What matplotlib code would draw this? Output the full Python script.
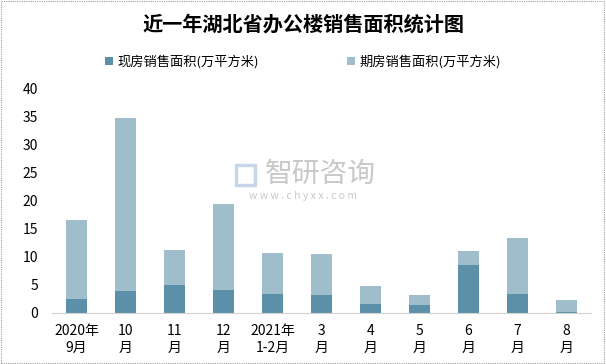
import matplotlib.pyplot as plt
import numpy as np

plt.rcParams['font.family'] = ['Noto Sans CJK SC', 'DejaVu Sans']

# Data
months = ['2020年\n9月', '10\n月', '11\n月', '12\n月', '2021年\n1-2月',
          '3\n月', '4\n月', '5\n月', '6\n月', '7\n月', '8\n月']
existing = [2.5, 3.9, 5.0, 4.1, 3.4, 3.2, 1.6, 1.4, 8.6, 3.4, 0.2]
presale = [14.1, 30.9, 6.25, 15.4, 7.3, 7.3, 3.2, 1.8, 2.5, 10.0, 2.1]
yticks = [0, 5, 10, 15, 20, 25, 30, 35, 40]

c_exist = '#5b90a8'
c_pre = '#9fbdca'

fig = plt.figure(figsize=(6.06, 3.64), dpi=100)
ax = fig.add_axes([52 / 606, 1 - 313 / 364, 539 / 606, 224 / 364])

x = np.arange(len(months))
ax.bar(x, existing, width=0.41, color=c_exist, label='现房销售面积(万平方米)')
ax.bar(x, presale, width=0.41, bottom=existing, color=c_pre, label='期房销售面积(万平方米)')

ax.set_xlim(-0.5, len(months) - 0.5)
ax.set_ylim(0, 40)
ax.set_yticks(yticks)
ax.set_yticklabels([str(t) for t in yticks], fontsize=10)
ax.set_xticks(x)
ax.set_xticklabels(months, fontsize=10, linespacing=1.3)
ax.tick_params(length=0, pad=8)
ax.tick_params(axis='y', pad=10)
for s in ['top', 'right', 'left']:
    ax.spines[s].set_visible(False)
ax.spines['bottom'].set_color('#d0d0d0')

# Title and legend
fig.text(0.5, 1 - 24 / 364, '近一年湖北省办公楼销售面积统计图', ha='center', va='center',
         fontsize=14.5, fontweight='bold')
ax.legend(loc='center', bbox_to_anchor=(0.5, 1 - 62 / 364), bbox_transform=fig.transFigure,
          ncol=2, frameon=False, fontsize=9.5, handlelength=0.6, handleheight=0.6,
          columnspacing=6.7, handletextpad=0.3)

# Watermark
fig.text(320 / 606, 1 - 174 / 364, '智研咨询', ha='center', va='center', fontsize=20,
         color='#c8c8c8', zorder=0)
fig.text(303 / 606, 1 - 196 / 364, 'w w w . c h y x x . c o m', ha='center', va='center',
         fontsize=7.5, color='#c8c8c8', zorder=0)
fig.patches.append(plt.Rectangle((236 / 606, 1 - 185 / 364), 19 / 606, 20 / 364,
                                 transform=fig.transFigure, fill=False,
                                 edgecolor='#c9d6e8', linewidth=2.5, zorder=0))

# Border
fig.patches.append(plt.Rectangle((0.002, 0.003), 0.995, 0.994, transform=fig.transFigure,
                                 fill=False, edgecolor='#a0a0a0', linestyle=(0, (1, 1)),
                                 linewidth=0.8))

fig.savefig('out.png', dpi=100)
